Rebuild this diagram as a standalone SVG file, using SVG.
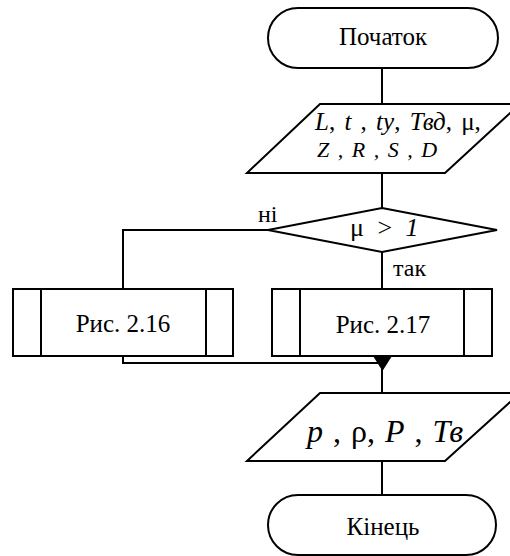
<svg xmlns="http://www.w3.org/2000/svg" width="510" height="556" viewBox="0 0 510 556" font-family="Liberation Serif">
<defs>
<style>
.s{fill:#fff;stroke:#000;stroke-width:2}
.l{fill:none;stroke:#000;stroke-width:2}
.i{font-style:italic}
</style>
</defs>
<rect width="510" height="556" fill="#fff"/>
<g id="connectors">
<path class="l" d="M382 68V104"/>
<path class="l" d="M382 173V208"/>
<path class="l" d="M268 230H123V288"/>
<path class="l" d="M382 252V288"/>
<path class="l" d="M123 356V363H382"/>
<path class="l" d="M382 356V393"/>
<path class="l" d="M382 461V495"/>
<text font-family="Liberation Serif" x="258" y="222" font-size="24">ні</text>
<text font-family="Liberation Serif" x="393" y="276" font-size="24">так</text>
</g>
<g id="start">
<rect class="s" x="268" y="8" width="230" height="60" rx="30"/>
<text font-family="Liberation Serif" x="383" y="45" font-size="25" text-anchor="middle">Початок</text>
</g>
<g id="input">
<polygon class="s" points="320,104 520,104 445,173 247,173"/>
<text font-family="Liberation Serif" x="315" y="130" font-size="25" word-spacing="3"><tspan class="i">L</tspan>, <tspan class="i">t</tspan> , <tspan class="i">ty</tspan>, <tspan class="i">Твд</tspan>, μ,</text>
<text font-family="Liberation Serif" class="i" x="317" y="157" font-size="22" word-spacing="3">Z , R , S , D</text>
</g>
<g id="decision">
<polygon class="s" points="382,208 497,230 382,252 268,230"/>
<text font-family="Liberation Serif" x="350" y="236" font-size="26" word-spacing="7">μ &gt; <tspan class="i">1</tspan></text>
</g>
<g id="proc216">
<rect class="s" x="13" y="289" width="220" height="67"/>
<path class="l" d="M41 289V356M206 289V356"/>
<text font-family="Liberation Serif" x="123" y="332" font-size="25" text-anchor="middle">Рис. 2.16</text>
</g>
<g id="proc217">
<rect class="s" x="272" y="289" width="220" height="67"/>
<path class="l" d="M300 289V356M464 289V356"/>
<text font-family="Liberation Serif" x="383" y="333" font-size="25" text-anchor="middle">Рис. 2.17</text>
</g>
<polygon id="arrowhead" points="373,356 392,356 382.5,371" fill="#000"/>
<g id="output">
<polygon class="s" points="320,393 520,393 445,461 247,461"/>
<text font-family="Liberation Serif" x="307" y="442" font-size="32" word-spacing="2"><tspan class="i">p</tspan> , ρ, <tspan class="i">P</tspan> , <tspan class="i">Тв</tspan></text>
</g>
<g id="end">
<rect class="s" x="268" y="495" width="228" height="60" rx="30"/>
<text font-family="Liberation Serif" x="383" y="535" font-size="25" text-anchor="middle">Кінець</text>
</g>
</svg>
